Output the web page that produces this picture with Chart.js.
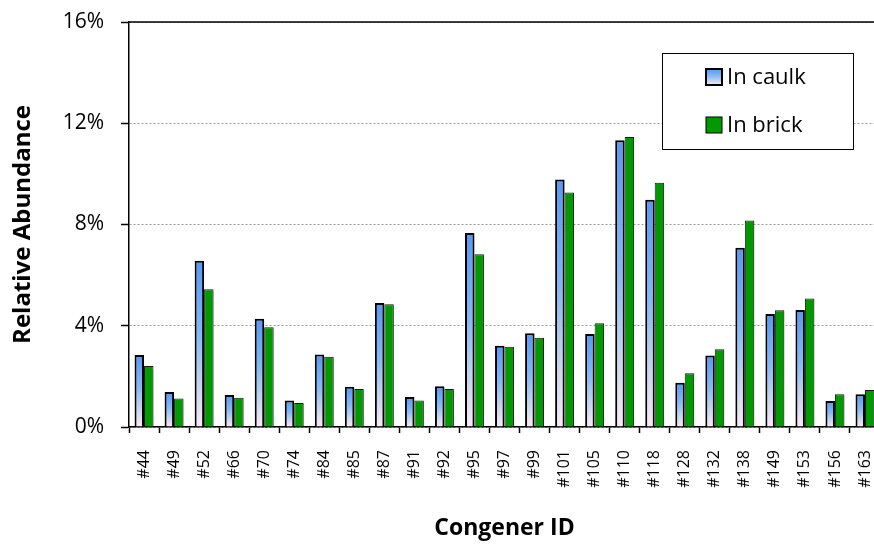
<!DOCTYPE html>
<html>
<head>
<meta charset="utf-8">
<script src="https://cdn.jsdelivr.net/npm/chart.js@4/dist/chart.umd.min.js"></script>
<style>
  html, body { margin: 0; padding: 0; background: #fff; overflow: hidden; }
  #wrap { width: 880px; height: 544px; }
</style>
</head>
<body>
<div id="wrap"><canvas id="congenerChart" width="880" height="544"></canvas></div>
<script>
// relative abundance of PCB congeners, caulk vs brick
const congeners = ['#44', '#49', '#52', '#66', '#70', '#74', '#84', '#85', '#87', '#91', '#92', '#95', '#97',
  '#99', '#101', '#105', '#110', '#118', '#128', '#132', '#138', '#149', '#153', '#156', '#163'];
const inCaulk = [2.84, 1.38, 6.57, 1.26, 4.28, 1.05, 2.86, 1.59, 4.90, 1.19, 1.61, 7.66, 3.21,
  3.70, 9.78, 3.67, 11.33, 8.98, 1.75, 2.82, 7.08, 4.46, 4.62, 1.03, 1.29];
const inBrick = [2.41, 1.13, 5.44, 1.16, 3.94, 0.95, 2.78, 1.50, 4.85, 1.05, 1.50, 6.82, 3.17,
  3.53, 9.26, 4.10, 11.46, 9.65, 2.12, 3.07, 8.16, 4.61, 5.08, 1.29, 1.46];
const yTicks = [0, 4, 8, 12, 16];

(function () {
  const FONT = "'Open Sans', 'DejaVu Sans', sans-serif";

  function caulkGradient(ctx, top, bottom) {
    const g = ctx.createLinearGradient(0, top, 0, bottom);
    g.addColorStop(0, '#5898f4');
    g.addColorStop(0.45, '#84baf6');
    g.addColorStop(0.75, '#c6d6ee');
    g.addColorStop(1, '#fbe8f8');
    return g;
  }

  // per-bar gradient, blue on top fading to pale pink at the base
  function caulkFill(context) {
    const chart = context.chart;
    const y = chart.scales.y;
    if (!y || context.raw == null) return '#86bcf6';
    const top = y.getPixelForValue(context.raw);
    const bottom = y.getPixelForValue(0);
    if (!isFinite(top) || !isFinite(bottom) || bottom - top < 1) return '#86bcf6';
    return caulkGradient(chart.ctx, top, bottom);
  }

  const shadowPlugin = {
    id: 'barShadow',
    beforeDatasetsDraw(chart) {
      const ctx = chart.ctx;
      ctx.save();
      ctx.shadowColor = 'rgba(0,0,0,0.18)';
      ctx.shadowOffsetX = 1.5;
      ctx.shadowOffsetY = 1;
      ctx.shadowBlur = 1;
    },
    afterDatasetsDraw(chart) {
      chart.ctx.restore();
    }
  };

  const framePlugin = {
    id: 'plotFrame',
    afterDraw(chart) {
      const ctx = chart.ctx;
      const a = chart.chartArea;
      ctx.save();
      ctx.strokeStyle = '#000';
      ctx.lineWidth = 1.5;
      ctx.beginPath();
      ctx.moveTo(a.left, a.top);
      ctx.lineTo(chart.width, a.top);
      ctx.stroke();
      ctx.restore();
    }
  };

  const boxLegend = {
    id: 'boxLegend',
    afterDraw(chart) {
      const ctx = chart.ctx;
      const a = chart.chartArea;
      const bx = a.left + 533, by = a.top + 31, bw = 191, bh = 96;
      ctx.save();
      ctx.fillStyle = '#fff';
      ctx.fillRect(bx, by, bw, bh);
      ctx.strokeStyle = '#000';
      ctx.lineWidth = 1;
      ctx.strokeRect(bx + 0.5, by + 0.5, bw, bh);

      ctx.font = '22px ' + FONT;
      ctx.textBaseline = 'middle';
      ctx.textAlign = 'left';
      chart.data.datasets.forEach(function (ds, i) {
        const cy = by + 24 + i * 48;
        const sx = bx + 44, sy = cy - 8, s = 16;
        if (i === 0) {
          ctx.fillStyle = caulkGradient(ctx, sy, sy + s);
        } else {
          ctx.fillStyle = ds.backgroundColor;
        }
        ctx.fillRect(sx, sy, s, s);
        ctx.strokeStyle = '#000';
        ctx.lineWidth = i === 0 ? 2 : 1;
        ctx.strokeRect(sx, sy, s, s);
        ctx.fillStyle = '#000';
        ctx.fillText(ds.label, sx + s + 5, cy + 1);
      });
      ctx.restore();
    }
  };

  function initChart() {
    const canvas = document.getElementById('congenerChart');
    new Chart(canvas.getContext('2d'), {
      type: 'bar',
      data: {
        labels: congeners,
        datasets: [
          {
            label: 'In caulk',
            data: inCaulk,
            backgroundColor: caulkFill,
            borderColor: '#000',
            borderWidth: 2,
            categoryPercentage: 0.63,
            barPercentage: 1
          },
          {
            label: 'In brick',
            data: inBrick,
            backgroundColor: '#009900',
            borderColor: '#1a1a1a',
            borderWidth: 1,
            categoryPercentage: 0.63,
            barPercentage: 1
          }
        ]
      },
      options: {
        responsive: false,
        animation: false,
        layout: { padding: { top: 22, right: 0, bottom: 0, left: 0 } },
        plugins: {
          legend: { display: false },
          tooltip: { enabled: false }
        },
        scales: {
          x: {
            offset: true,
            grid: {
              display: true,
              drawOnChartArea: false,
              offset: true,
              tickLength: 6,
              tickColor: '#000',
              tickWidth: 1.5
            },
            border: { color: '#000', width: 1.5 },
            ticks: {
              color: '#000',
              font: { family: FONT, size: 16 },
              minRotation: 90,
              maxRotation: 90,
              autoSkip: false,
              padding: 17
            },
            title: {
              display: true,
              text: 'Congener ID',
              color: '#000',
              font: { family: FONT, size: 23, weight: 'bold' },
              padding: { top: 0, bottom: 2 }
            },
            afterFit(scale) {
              scale.height = 117;
              scale.paddingLeft = 0;
              scale.paddingRight = 0;
            }
          },
          y: {
            min: 0,
            max: 16,
            afterBuildTicks(scale) {
              scale.ticks = yTicks.map(function (v) { return { value: v }; });
            },
            grid: {
              color: '#9a9a9a',
              lineWidth: 1,
              tickLength: 8,
              tickColor: '#000',
              tickWidth: 1.5,
              tickBorderDash: []
            },
            border: { color: '#000', width: 1.5, dash: [2, 2] },
            ticks: {
              color: '#000',
              font: { family: FONT, size: 21 },
              padding: 17,
              callback: function (v) { return v + '%'; }
            },
            title: {
              display: true,
              text: 'Relative Abundance',
              color: '#000',
              font: { family: FONT, size: 24, weight: 'bold' },
              padding: { top: 9, bottom: 0 }
            },
            afterFit(scale) {
              scale.width = 129;
              scale.paddingTop = 0;
              scale.paddingBottom = 0;
            }
          }
        }
      },
      plugins: [shadowPlugin, framePlugin, boxLegend]
    });
  }

  if (document.readyState === 'loading') {
    document.addEventListener('DOMContentLoaded', initChart);
  } else {
    initChart();
  }
})();
</script>
</body>
</html>
